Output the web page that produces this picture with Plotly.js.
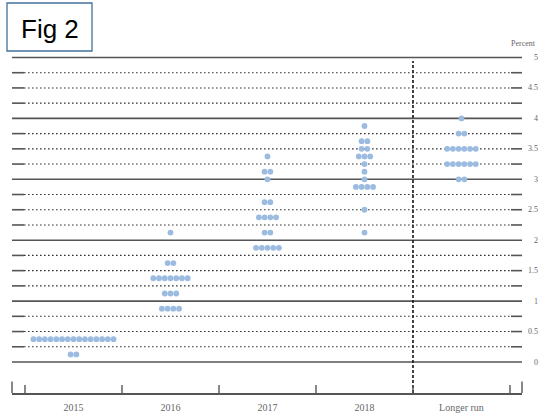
<!DOCTYPE html>
<html>
<head>
<meta charset="utf-8">
<script src="https://cdn.plot.ly/plotly-3.0.1.min.js"></script>
<style>html,body{margin:0;padding:0;background:#fff;}#chart{width:560px;height:420px;}</style>
</head>
<body>
<div id="chart"></div>
<script>
// ---- data ----
var categories = ['2015', '2016', '2017', '2018', 'Longer run'];

var levels2015 = [0.125, 0.375];
var counts2015 = [2, 15];

var levels2016 = [0.875, 1.125, 1.375, 1.625, 2.125];
var counts2016 = [4, 3, 7, 2, 1];

var levels2017 = [1.875, 2.125, 2.375, 2.625, 3.0, 3.125, 3.375];
var counts2017 = [5, 2, 4, 2, 1, 2, 1];

var levels2018 = [2.125, 2.5, 2.875, 3.0, 3.125, 3.25, 3.375, 3.5, 3.625, 3.875];
var counts2018 = [1, 1, 4, 1, 1, 1, 3, 2, 2, 1];

var levelsLR = [3.0, 3.25, 3.5, 3.75, 4.0];
var countsLR = [2, 6, 6, 2, 1];

var yTickVals = [0, 0.5, 1, 1.5, 2, 2.5, 3, 3.5, 4, 4.5, 5];
var yTickText = ['0', '0.5', '1', '1.5', '2', '2.5', '3', '3.5', '4', '4.5', '5'];

// ---- build dots ----
var groups = [
  [levels2015, counts2015],
  [levels2016, counts2016],
  [levels2017, counts2017],
  [levels2018, counts2018],
  [levelsLR, countsLR]
];
var dotGap = 0.059; // horizontal spacing between dots, in category units
var xs = [], ys = [];
groups.forEach(function (g, ci) {
  var lv = g[0], ct = g[1];
  for (var i = 0; i < lv.length; i++) {
    var n = ct[i];
    for (var k = 0; k < n; k++) {
      xs.push(ci + (k - (n - 1) / 2) * dotGap);
      ys.push(lv[i]);
    }
  }
});

var trace = {
  type: 'scatter', mode: 'markers', x: xs, y: ys,
  marker: { size: 5.8, color: '#9bbbe0', line: { width: 0 } },
  hoverinfo: 'skip', showlegend: false, cliponaxis: false
};

// ---- layout geometry ----
var L = 12, R = 522, T = 40, B = 393;
function px(X) { return (X - L) / (R - L); }
function py(Y) { return (B - Y) / (B - T); }

var shapes = [];
var lineCol = '#555';
for (var q = 0; q <= 20; q++) {
  var v = q / 4;
  if (q % 4 === 0) {
    shapes.push({ type: 'line', layer: 'below', xref: 'paper', yref: 'y', x0: 0, x1: 1, y0: v, y1: v,
      line: { color: lineCol, width: 1.6 } });
  } else {
    shapes.push({ type: 'line', layer: 'below', xref: 'paper', yref: 'y', x0: px(24), x1: px(511), y0: v, y1: v,
      line: { color: '#333', width: 1.1, dash: '1.6px,2.4px' } });
    shapes.push({ type: 'line', layer: 'below', xref: 'paper', yref: 'y', x0: 0, x1: px(24), y0: v, y1: v,
      line: { color: lineCol, width: 1.6 } });
    shapes.push({ type: 'line', layer: 'below', xref: 'paper', yref: 'y', x0: px(511), x1: 1, y0: v, y1: v,
      line: { color: lineCol, width: 1.6 } });
  }
}
// vertical dashed separator before "Longer run"
shapes.push({ type: 'line', layer: 'below', xref: 'x', yref: 'paper', x0: 3.5, x1: 3.5, y0: 0, y1: py(61),
  line: { color: '#222', width: 1.7, dash: '3px,2px' } });
// x axis ticks at category boundaries
for (var b = -0.5; b <= 4.5; b += 1) {
  shapes.push({ type: 'line', xref: 'x', yref: 'paper', x0: b, x1: b, y0: 0, y1: py(385),
    line: { color: lineCol, width: 1.4 } });
}
shapes.push({ type: 'line', xref: 'paper', yref: 'paper', x0: 0, x1: 0, y0: 0, y1: py(381.5), line: { color: lineCol, width: 1.4 } });
shapes.push({ type: 'line', xref: 'paper', yref: 'paper', x0: 1, x1: 1, y0: 0, y1: py(381.5), line: { color: lineCol, width: 1.4 } });
// Fig 2 box
shapes.push({ type: 'rect', xref: 'paper', yref: 'paper', x0: px(7), x1: px(92), y0: py(51), y1: py(3),
  line: { color: '#41719c', width: 1.3 }, fillcolor: '#fff' });

var annotations = [];
for (var t = 0; t < yTickVals.length; t++) {
  annotations.push({ xref: 'paper', yref: 'y', x: px(539.5), y: yTickVals[t], text: yTickText[t],
    showarrow: false, xanchor: 'right', yanchor: 'middle',
    font: { family: 'Liberation Serif, serif', size: 8, color: '#666' } });
}
annotations.push({ xref: 'paper', yref: 'paper', x: px(523), y: py(43), text: 'Percent', showarrow: false,
  xanchor: 'center', yanchor: 'middle', font: { family: 'Liberation Serif, serif', size: 8, color: '#666' } });
annotations.push({ xref: 'paper', yref: 'paper', x: px(50), y: py(29), text: 'Fig 2', showarrow: false,
  xanchor: 'center', yanchor: 'middle', font: { family: 'Liberation Sans, Arial, sans-serif', size: 26, color: '#000' } });

var layout = {
  width: 560, height: 420,
  margin: { l: L, r: 560 - R, t: T, b: 420 - B, pad: 0 },
  paper_bgcolor: '#fff', plot_bgcolor: '#fff',
  showlegend: false,
  xaxis: {
    range: [-0.634, 4.624], showgrid: false, zeroline: false,
    showline: true, linecolor: lineCol, linewidth: 1.6,
    tickvals: [0, 1, 2, 3, 4], ticktext: categories, ticks: '',
    ticklabelstandoff: 4,
    tickfont: { family: 'Liberation Serif, serif', size: 10, color: '#666' }
  },
  yaxis: {
    range: [-0.509, 5.287], showgrid: false, zeroline: false, showline: false,
    showticklabels: false, ticks: ''
  },
  shapes: shapes,
  annotations: annotations
};

Plotly.newPlot('chart', [trace], layout, { staticPlot: true, displayModeBar: false });
</script>
</body>
</html>
